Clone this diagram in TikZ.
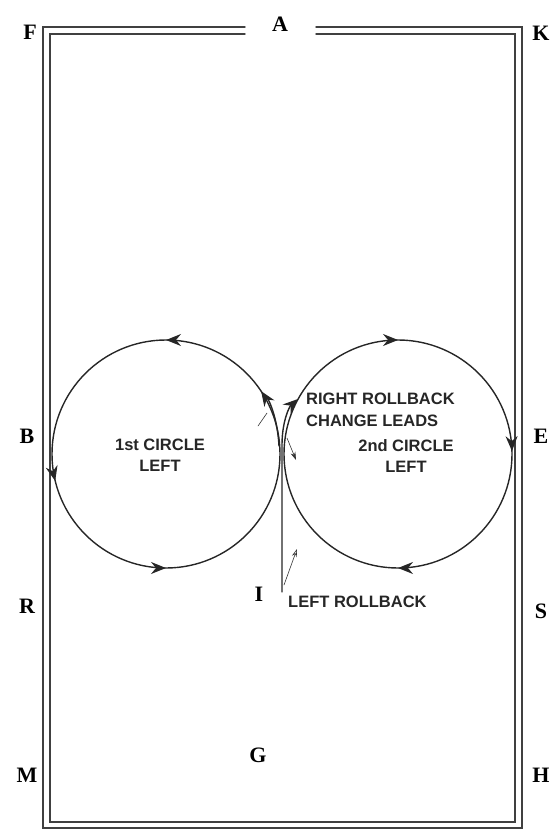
\documentclass[tikz,border=0pt]{standalone}
\usepackage{fontspec}
\setmainfont{Liberation Serif}
\setsansfont{Liberation Sans}
\usetikzlibrary{arrows.meta,decorations.markings}

\tikzset{
  >={Stealth[length=15pt,width=12pt,inset=5pt]},
  rail/.style={line width=1.4pt,draw=black!75,line join=miter},
  loopline/.style={line width=1.4pt,draw=black!85},
  hintline/.style={line width=0.6pt,draw=black!80},
  arenaletter/.style={font=\rmfamily\bfseries\fontsize{22}{24}\selectfont,inner sep=0pt},
  ridetext/.style={font=\sffamily\bfseries\fontsize{16.5}{21.5}\selectfont,inner sep=0pt,text=black!85}
}

\begin{document}
\begin{tikzpicture}[x=1pt,y=-1pt,line cap=round]
\useasboundingbox (0,0) rectangle (553,829);

% arena fence, double line with the gate at A
\draw[rail] (245,27) -- (43,27) -- (43,828) -- (522,828) -- (522,27) -- (316,27);
\draw[rail] (245,34) -- (50,34) -- (50,822) -- (515,822) -- (515,34) -- (316,34);

% letters round the fence
\node[arenaletter] (F) at (30,32) {F};
\node[arenaletter] (A) at (280,24) {A};
\node[arenaletter] (K) at (541,33) {K};
\node[arenaletter] (B) at (27,436) {B};
\node[arenaletter] (E) at (541,436) {E};
\node[arenaletter] (R) at (27,606) {R};
\node[arenaletter] (S) at (541,611) {S};
\node[arenaletter] (M) at (27,775) {M};
\node[arenaletter] (H) at (541,775) {H};
\node[arenaletter] (G) at (258,755) {G};
\node[arenaletter] (I) at (259,594) {I};

% centres of the two circles
\coordinate (c1) at (166,454);
\coordinate (c2) at (398,454);

% 1st circle, ridden to the left
\draw[loopline,postaction={decorate},decoration={markings,
    mark=at position 0.25 with {\arrowreversed{>}},
    mark=at position 0.462 with {\arrowreversed{>}},
    mark=at position 0.75 with {\arrowreversed{>}},
    mark=at position 0.907 with {\arrowreversed{>}}}]
  (c1) circle (114);

% 2nd circle, ridden to the left
\draw[loopline,postaction={decorate},decoration={markings,
    mark=at position 0.25 with {\arrow{>}},
    mark=at position 0.75 with {\arrow{>}},
    mark=at position 0.996 with {\arrow{>}}}]
  (c2) circle (114);

% rollback track up the centre line from I
\coordinate (rollI) at (282,592);
\coordinate (rollTop) at (282,445);
\coordinate (rightJoin) at (298,399);
\coordinate (leftJoin) at (267,397);
\draw[loopline,->] (rollI) -- (rollTop) .. controls (282,422) and (289,407) .. (rightJoin);
\draw[loopline] (279,446) .. controls (278,428) and (274,410) .. (leftJoin);

% small hint arrows and the cross
\coordinate (hintLo1) at (284,585);
\coordinate (hintLo2) at (297,549);
\draw[hintline,-{Stealth[open,length=8pt,width=5pt]}] (hintLo1) -- (hintLo2);
\coordinate (hintUp1) at (287,438);
\coordinate (hintUp2) at (296,460);
\draw[hintline,-{Stealth[length=8pt,width=5pt]}] (hintUp1) -- (hintUp2);
\draw[hintline] (258,426) -- (267,413);

% texts
\node[ridetext,align=center] (circA) at (160,455) {1st CIRCLE\\LEFT};
\node[ridetext,align=left,anchor=west] (rightRoll) at (306,410) {RIGHT ROLLBACK\\CHANGE LEADS};
\node[ridetext,align=center] (circB) at (406,456) {2nd CIRCLE\\LEFT};
\node[ridetext,anchor=west] (leftRoll) at (288,602) {LEFT ROLLBACK};

\end{tikzpicture}
\end{document}
